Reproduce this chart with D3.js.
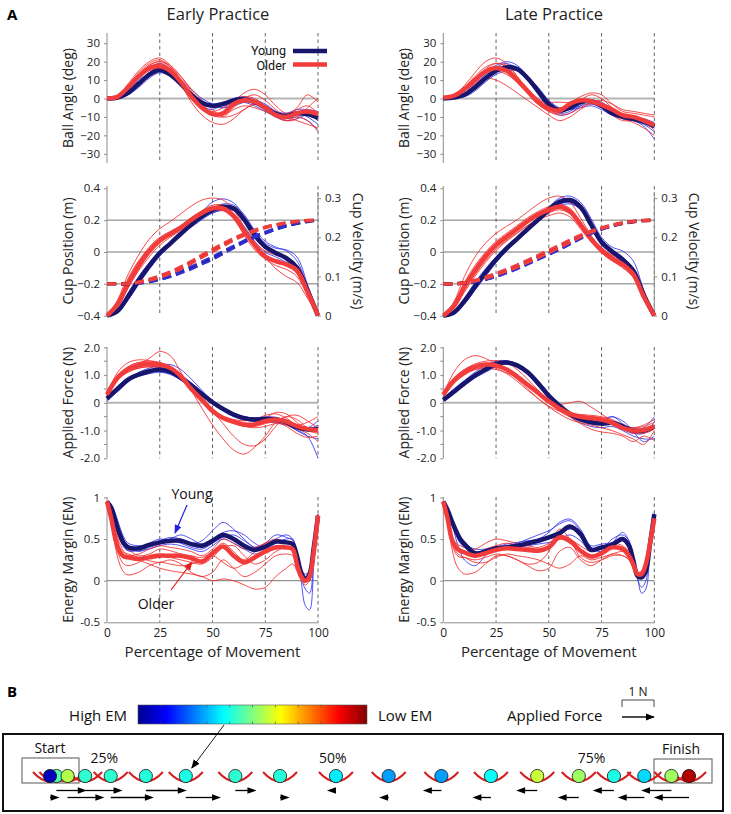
<!DOCTYPE html>
<html><head><meta charset="utf-8">
<script src="https://cdn.jsdelivr.net/npm/d3@7"></script>
<style>body{margin:0;background:#fff;} svg{display:block;font-family:"Open Sans",sans-serif;}</style>
</head><body><svg id="c" width="731" height="814"></svg>
<script>
// ---------------- DATA ----------------
const pct   = [0,5,10,15,20,25,30,35,40,45,50,55,60,65,70,75,80,85,90,95,100];
const pctEM = [0,2,4,6,8,10,15,20,25,30,35,40,45,50,55,60,65,70,75,80,85,88,90,92,94,96,98,100];
const xTicks = [0,25,50,75,100];
const dashMarks = [25,50,75,100];

// Ball angle (deg) – Early
const baEarlyYoungMean = [0,0.5,3,8,13,15.5,13,8,2,-2.5,-4,-3,-1,-0.5,-2,-5,-8.5,-9.5,-8,-8.5,-10.5];
const baEarlyOlderMean = [0,1,6,12,16.5,17.5,15,9,1,-5,-8.5,-8,-3,-1,-1.8,-5,-9,-10,-8,-7,-8.5];
const baEarlyYoung = [
 [0,0.5,3,9,14,17,15,9,3,-1,-4,-5,-2,0,-2,-6,-10,-11,-10,-12,-17],
 [0,0,2,6,11,14,12,7,1,-4,-6,-3,0,1,-1,-4,-7,-8,-6,-6,-7],
 [0,0.5,4,10,16,19,16,9,2,-2,-3,-2,-1,-2,-4,-7,-10,-12,-11,-9,-12],
 [0,0,2,7,12,15,14,10,5,0,-3,-5,-4,-2,-1,-3,-7,-9,-8,-10,-14]];
const baEarlyOlder = [
 [0,1,8,15,20,22,18,10,2,-5,-9,-10,-5,0,2,-1,-6,-9,-5,2,-2],
 [0,1,7,14,19,21,17,8,-2,-9,-13,-14,-11,-6,-3,-5,-10,-12,-10,-12,-18],
 [0,0.5,5,11,15,16,13,7,0,-6,-9,-7,-2,3,5,2,-4,-8,-6,-4,-8],
 [0,1,6,12,17,19,16,10,2,-4,-7,-5,-1,1,0,-4,-8,-10,-12,-14,-16],
 [0,1,7,13,18,20,17,12,5,-1,-6,-10,-9,-6,-3,-4,-8,-12,-11,-5,0],
 [0,0.5,5,12,18,20,18,12,4,-3,-8,-9,-6,-4,-5,-7,-9,-10,-9,-9,-11]];
// Ball angle – Late
const baLateYoungMean = [0,0.5,2,6,11,15,17,16,11,4,-3,-6.5,-5,-2,-1.5,-4,-8,-10,-11,-12.5,-15];
const baLateOlderMean = [0.5,1.5,5,10,14.5,16.5,15,10,4,-2,-5.5,-6.5,-3,-1,-1.5,-3.5,-6,-9,-10,-12,-14.5];
const baLateYoung = [
 [0,0.5,3,8,14,18,20,18,12,4,-4,-8,-7,-3,-1,-3,-8,-11,-12,-15,-22],
 [0,0,2,5,10,14,17,17,12,5,-2,-6,-6,-4,-3,-5,-8,-9,-10,-11,-13],
 [0,0.5,2,7,13,17,19,16,10,2,-5,-9,-8,-4,-1,-2,-6,-10,-12,-14,-18],
 [0,0.5,1,4,9,13,15,15,11,6,-1,-5,-6,-5,-4,-6,-9,-10,-10,-12,-16]];
const baLateOlder = [
 [1,2,7,14,20,22,19,12,4,-3,-7,-8,-5,-1,2,0,-5,-9,-10,-11,-14],
 [0.5,1,4,8,11,10,7,3,-1,-5,-9,-12,-10,-6,-3,-4,-8,-10,-11,-12,-15],
 [0.5,2,6,12,17,19,17,11,4,-1,-2,-2,-2,1,3,2,-3,-7,-8,-9,-10],
 [0.5,1,5,11,16,19,18,12,5,-2,-6,-7,-4,-2,-2,-5,-9,-12,-12,-13,-17],
 [0.5,1.5,5,10,14,15,13,9,3,-3,-7,-9,-8,-5,-2,-1,-3,-6,-7,-8,-9],
 [0.5,2,6,11,15,17,16,11,5,0,-4,-5,-4,-3,-1,-3,-7,-11,-13,-16,-20]];

// Cup velocity (m/s, right axis) – Early
const velEarlyYoungMean = [0,0.012,0.049,0.090,0.127,0.160,0.184,0.209,0.233,0.254,0.270,0.278,0.274,0.245,0.205,0.176,0.160,0.147,0.123,0.065,0];
const velEarlyOlderMean = [0,0.029,0.082,0.127,0.164,0.192,0.209,0.225,0.245,0.262,0.274,0.274,0.254,0.217,0.180,0.151,0.139,0.131,0.115,0.061,0];
const velEarlyYoung = [
 [0,0.010,0.040,0.080,0.118,0.152,0.180,0.208,0.238,0.265,0.290,0.298,0.288,0.255,0.215,0.185,0.172,0.168,0.150,0.080,0],
 [0,0.015,0.055,0.098,0.135,0.165,0.188,0.210,0.230,0.248,0.262,0.270,0.268,0.250,0.215,0.180,0.160,0.140,0.110,0.055,0],
 [0,0.008,0.040,0.085,0.125,0.158,0.183,0.205,0.228,0.250,0.272,0.285,0.282,0.258,0.218,0.190,0.175,0.165,0.140,0.075,0],
 [0,0.014,0.058,0.100,0.134,0.162,0.182,0.205,0.226,0.245,0.262,0.268,0.258,0.228,0.190,0.162,0.150,0.135,0.110,0.055,0]];
const velEarlyOlder = [
 [0,0.040,0.105,0.155,0.195,0.222,0.240,0.260,0.280,0.295,0.300,0.295,0.270,0.225,0.180,0.150,0.140,0.130,0.110,0.055,0],
 [0,0.030,0.090,0.138,0.175,0.200,0.215,0.230,0.250,0.268,0.282,0.282,0.262,0.222,0.182,0.150,0.120,0.100,0.085,0.045,0],
 [0,0.022,0.070,0.115,0.150,0.180,0.200,0.218,0.238,0.255,0.266,0.268,0.252,0.220,0.188,0.165,0.155,0.148,0.130,0.070,0],
 [0,0.035,0.095,0.140,0.172,0.196,0.212,0.228,0.246,0.262,0.272,0.270,0.248,0.205,0.168,0.145,0.138,0.132,0.118,0.062,0],
 [0,0.025,0.075,0.120,0.160,0.190,0.208,0.222,0.240,0.258,0.270,0.272,0.255,0.218,0.178,0.148,0.135,0.128,0.112,0.058,0],
 [0,0.028,0.080,0.125,0.160,0.186,0.204,0.222,0.244,0.262,0.276,0.276,0.256,0.215,0.175,0.145,0.128,0.118,0.100,0.052,0]];
// Cup velocity – Late
const velLateYoungMean = [0,0.008,0.037,0.074,0.110,0.143,0.172,0.196,0.221,0.245,0.270,0.290,0.295,0.278,0.233,0.188,0.164,0.143,0.115,0.053,0];
const velLateOlderMean = [0,0.025,0.074,0.115,0.151,0.180,0.201,0.221,0.241,0.258,0.270,0.278,0.266,0.233,0.196,0.168,0.147,0.131,0.106,0.049,0];
const velLateYoung = [
 [0,0.006,0.030,0.065,0.100,0.135,0.165,0.192,0.220,0.248,0.276,0.300,0.305,0.290,0.248,0.200,0.175,0.165,0.140,0.065,0],
 [0,0.010,0.042,0.080,0.116,0.148,0.176,0.200,0.224,0.246,0.268,0.285,0.288,0.270,0.228,0.184,0.160,0.140,0.110,0.050,0],
 [0,0.007,0.035,0.072,0.108,0.140,0.170,0.196,0.222,0.250,0.278,0.296,0.298,0.276,0.226,0.180,0.158,0.135,0.105,0.048,0],
 [0,0.012,0.045,0.085,0.120,0.150,0.175,0.198,0.220,0.240,0.262,0.280,0.285,0.272,0.235,0.192,0.168,0.150,0.120,0.058,0]];
const velLateOlder = [
 [0,0.035,0.100,0.150,0.185,0.210,0.228,0.245,0.265,0.285,0.300,0.305,0.290,0.250,0.205,0.170,0.150,0.130,0.100,0.045,0],
 [0,0.020,0.065,0.105,0.140,0.170,0.192,0.212,0.230,0.245,0.255,0.262,0.252,0.222,0.188,0.160,0.140,0.125,0.100,0.045,0],
 [0,0.028,0.080,0.122,0.158,0.186,0.206,0.224,0.244,0.262,0.276,0.284,0.274,0.240,0.200,0.170,0.150,0.132,0.108,0.050,0],
 [0,0.022,0.070,0.110,0.146,0.176,0.198,0.218,0.238,0.256,0.268,0.275,0.262,0.228,0.190,0.160,0.140,0.122,0.098,0.045,0],
 [0,0.030,0.085,0.128,0.162,0.190,0.210,0.230,0.250,0.266,0.278,0.282,0.268,0.236,0.200,0.172,0.155,0.140,0.115,0.055,0],
 [0,0.018,0.060,0.100,0.136,0.166,0.190,0.210,0.230,0.248,0.262,0.270,0.260,0.230,0.195,0.166,0.146,0.130,0.105,0.048,0]];

// Cup position (m, left axis, dashed)
const posEarlyYoung = [
 [-0.2,-0.2,-0.2,-0.195,-0.185,-0.17,-0.15,-0.125,-0.1,-0.07,-0.04,-0.005,0.03,0.065,0.095,0.12,0.145,0.165,0.18,0.192,0.2],
 [-0.2,-0.2,-0.2,-0.196,-0.188,-0.175,-0.157,-0.134,-0.108,-0.078,-0.047,-0.012,0.024,0.06,0.09,0.117,0.142,0.162,0.178,0.19,0.2],
 [-0.2,-0.2,-0.199,-0.193,-0.182,-0.165,-0.144,-0.118,-0.09,-0.06,-0.028,0.006,0.04,0.073,0.102,0.127,0.15,0.168,0.182,0.193,0.2]];
const posEarlyOlder = [
 [-0.2,-0.2,-0.2,-0.19,-0.175,-0.155,-0.13,-0.1,-0.065,-0.025,0.01,0.045,0.08,0.11,0.135,0.155,0.17,0.183,0.192,0.198,0.2],
 [-0.2,-0.2,-0.198,-0.186,-0.168,-0.146,-0.12,-0.09,-0.055,-0.016,0.02,0.055,0.088,0.116,0.14,0.158,0.172,0.184,0.193,0.198,0.2],
 [-0.2,-0.2,-0.2,-0.192,-0.18,-0.162,-0.138,-0.108,-0.074,-0.036,0.0,0.035,0.07,0.102,0.128,0.15,0.167,0.181,0.191,0.197,0.2]];
const posLateYoung = [
 [-0.2,-0.2,-0.195,-0.185,-0.17,-0.15,-0.125,-0.1,-0.07,-0.04,-0.01,0.02,0.055,0.09,0.12,0.145,0.165,0.18,0.19,0.197,0.2],
 [-0.2,-0.2,-0.197,-0.189,-0.175,-0.157,-0.133,-0.108,-0.079,-0.049,-0.018,0.013,0.047,0.082,0.113,0.14,0.161,0.177,0.189,0.196,0.2],
 [-0.2,-0.2,-0.194,-0.182,-0.165,-0.144,-0.118,-0.092,-0.062,-0.032,-0.002,0.028,0.062,0.096,0.125,0.149,0.168,0.182,0.191,0.198,0.2]];
const posLateOlder = [
 [-0.2,-0.2,-0.193,-0.18,-0.162,-0.14,-0.115,-0.088,-0.058,-0.028,0.003,0.035,0.068,0.1,0.128,0.15,0.168,0.182,0.192,0.198,0.2],
 [-0.2,-0.199,-0.19,-0.175,-0.155,-0.132,-0.106,-0.078,-0.048,-0.017,0.014,0.046,0.078,0.108,0.134,0.154,0.171,0.184,0.193,0.198,0.2],
 [-0.2,-0.2,-0.195,-0.184,-0.168,-0.147,-0.123,-0.097,-0.068,-0.038,-0.007,0.025,0.058,0.091,0.121,0.145,0.165,0.18,0.19,0.197,0.2]];

// Applied force (N) – Early
const fEarlyYoungMean = [0.15,0.5,0.84,1.02,1.14,1.2,1.12,0.9,0.62,0.32,0.02,-0.22,-0.42,-0.55,-0.6,-0.58,-0.6,-0.7,-0.88,-0.96,-0.95];
const fEarlyOlderMean = [0.3,0.9,1.2,1.35,1.4,1.38,1.26,0.96,0.5,0.1,-0.3,-0.55,-0.68,-0.78,-0.78,-0.66,-0.6,-0.68,-0.84,-0.94,-1.0];
const fEarlyYoung = [
 [0.1,0.4,0.75,1.0,1.15,1.25,1.2,1.0,0.72,0.4,0.08,-0.2,-0.4,-0.5,-0.55,-0.55,-0.62,-0.78,-0.98,-1.2,-2.0],
 [0.2,0.6,0.9,1.05,1.12,1.12,1.05,0.85,0.55,0.25,-0.05,-0.3,-0.5,-0.62,-0.65,-0.6,-0.55,-0.62,-0.8,-0.9,-0.65],
 [0.05,0.45,0.85,1.1,1.25,1.35,1.38,1.2,0.85,0.45,0.05,-0.25,-0.45,-0.6,-0.68,-0.7,-0.72,-0.8,-1.0,-1.2,-1.3],
 [0.25,0.55,0.8,0.95,1.05,1.1,1.02,0.82,0.55,0.28,0.0,-0.22,-0.38,-0.5,-0.55,-0.5,-0.52,-0.65,-0.85,-0.95,-0.8]];
const fEarlyOlder = [
 [0.3,1.1,1.45,1.55,1.52,1.45,1.3,1.0,0.55,0.1,-0.35,-0.6,-0.72,-0.8,-0.78,-0.55,-0.35,-0.4,-0.7,-1.0,-1.1],
 [0.2,0.8,1.2,1.4,1.6,1.85,1.7,1.1,0.45,-0.2,-0.8,-1.3,-1.7,-1.85,-1.6,-1.2,-0.7,-0.5,-0.6,-0.9,-1.0],
 [0.4,1.0,1.3,1.45,1.5,1.45,1.3,1.0,0.6,0.2,-0.2,-0.5,-0.7,-0.85,-0.9,-0.85,-0.75,-0.8,-0.95,-1.1,-1.4],
 [0.3,0.9,1.15,1.25,1.3,1.25,1.15,0.9,0.5,0.12,-0.25,-0.48,-0.6,-0.65,-0.6,-0.45,-0.4,-0.55,-0.8,-0.7,-0.5],
 [0.35,0.85,1.1,1.25,1.3,1.3,1.2,0.95,0.58,0.15,-0.3,-0.75,-1.2,-1.5,-1.55,-1.3,-0.85,-0.5,-0.45,-0.65,-0.9],
 [0.25,0.95,1.3,1.45,1.45,1.35,1.2,0.9,0.45,0.05,-0.35,-0.6,-0.75,-0.85,-0.85,-0.75,-0.7,-0.85,-1.1,-1.25,-1.2]];
// Applied force – Late
const fLateYoungMean = [0.1,0.4,0.7,0.98,1.2,1.4,1.45,1.35,1.1,0.7,0.25,-0.1,-0.4,-0.6,-0.7,-0.75,-0.72,-0.85,-1.0,-1.0,-0.85];
const fLateOlderMean = [0.3,0.8,1.1,1.3,1.38,1.35,1.2,0.95,0.65,0.35,0.05,-0.2,-0.4,-0.5,-0.55,-0.6,-0.72,-0.9,-1.0,-0.98,-0.85];
const fLateYoung = [
 [0.1,0.45,0.8,1.1,1.35,1.5,1.52,1.4,1.1,0.65,0.18,-0.2,-0.5,-0.72,-0.85,-0.9,-0.85,-1.0,-1.2,-1.3,-1.3],
 [0.15,0.4,0.65,0.9,1.1,1.3,1.4,1.35,1.15,0.8,0.35,-0.05,-0.35,-0.55,-0.62,-0.6,-0.5,-0.65,-0.95,-0.9,-0.5],
 [0.05,0.35,0.68,1.0,1.25,1.42,1.5,1.4,1.12,0.72,0.25,-0.12,-0.45,-0.65,-0.75,-0.8,-0.78,-0.95,-1.1,-1.1,-0.7],
 [0.15,0.5,0.8,1.05,1.25,1.38,1.4,1.28,1.02,0.62,0.2,-0.15,-0.4,-0.55,-0.65,-0.7,-0.5,-0.75,-1.05,-1.4,-1.2]];
const fLateOlder = [
 [0.3,1.1,1.55,1.7,1.6,1.4,1.15,0.85,0.5,0.15,-0.15,-0.4,-0.6,-0.72,-0.8,-0.9,-1.0,-1.15,-1.3,-1.5,-1.0],
 [0.35,0.9,1.2,1.4,1.5,1.52,1.45,1.2,0.85,0.45,0.05,-0.3,-0.5,-0.6,-0.6,-0.6,-0.75,-0.95,-1.1,-1.05,-0.8],
 [0.2,0.7,1.0,1.2,1.3,1.3,1.15,0.9,0.6,0.3,0.05,-0.05,0.0,0.05,-0.15,-0.4,-0.65,-0.85,-0.9,-0.8,-0.6],
 [0.3,0.75,1.05,1.25,1.35,1.3,1.15,0.95,0.7,0.4,0.1,-0.2,-0.5,-0.75,-0.95,-1.05,-1.1,-1.2,-1.4,-1.2,-1.35],
 [0.25,0.85,1.2,1.35,1.35,1.25,1.05,0.78,0.45,0.15,-0.12,-0.3,-0.4,-0.42,-0.45,-0.5,-0.6,-0.8,-0.9,-0.85,-0.7],
 [0.3,0.8,1.05,1.2,1.25,1.2,1.08,0.9,0.68,0.4,0.1,-0.2,-0.38,-0.45,-0.5,-0.55,-0.7,-0.85,-1.0,-1.1,-0.95]];

// Energy margin – Early (on pctEM grid)
const emEarlyYoungMean = [0.95,0.88,0.72,0.56,0.45,0.4,0.39,0.43,0.46,0.48,0.48,0.44,0.42,0.48,0.55,0.5,0.42,0.37,0.41,0.47,0.46,0.44,0.3,0.1,0.02,0.08,0.4,0.78];
const emEarlyOlderMean = [0.95,0.75,0.5,0.35,0.29,0.28,0.26,0.28,0.3,0.3,0.3,0.27,0.23,0.33,0.41,0.3,0.22,0.28,0.35,0.4,0.4,0.38,0.2,0.05,0.0,0.05,0.35,0.78];
const emEarlyYoung = [
 [0.95,0.9,0.8,0.65,0.52,0.45,0.42,0.44,0.48,0.52,0.5,0.45,0.48,0.6,0.7,0.62,0.5,0.4,0.45,0.55,0.52,0.48,0.3,0.0,-0.3,-0.35,0.2,0.78],
 [0.95,0.85,0.68,0.5,0.4,0.36,0.38,0.45,0.5,0.48,0.45,0.4,0.38,0.45,0.52,0.55,0.48,0.4,0.38,0.45,0.5,0.5,0.35,0.15,0.05,0.0,0.3,0.75],
 [0.95,0.88,0.75,0.6,0.48,0.42,0.35,0.4,0.44,0.5,0.55,0.5,0.44,0.5,0.58,0.6,0.55,0.45,0.4,0.5,0.55,0.5,0.3,0.05,-0.1,-0.15,0.25,0.78],
 [0.95,0.86,0.7,0.52,0.42,0.36,0.36,0.38,0.42,0.44,0.42,0.38,0.35,0.42,0.5,0.45,0.38,0.32,0.36,0.42,0.4,0.4,0.28,0.12,0.08,0.12,0.4,0.8]];
const emEarlyOlder = [
 [0.95,0.7,0.4,0.2,0.1,0.07,0.1,0.18,0.22,0.2,0.18,0.2,0.25,0.3,0.22,0.15,0.2,0.3,0.35,0.38,0.4,0.38,0.2,0.05,0.02,0.08,0.35,0.78],
 [0.95,0.8,0.6,0.45,0.35,0.3,0.25,0.2,0.15,0.12,0.1,0.08,0.05,0.0,0.02,0.0,-0.05,-0.1,-0.08,0.05,0.15,0.2,0.12,0.05,0.0,0.02,0.3,0.75],
 [0.95,0.82,0.65,0.5,0.42,0.38,0.3,0.32,0.38,0.36,0.32,0.3,0.28,0.35,0.45,0.35,0.25,0.35,0.45,0.5,0.45,0.42,0.25,0.08,0.03,0.1,0.4,0.8],
 [0.95,0.72,0.45,0.28,0.2,0.18,0.22,0.3,0.32,0.28,0.25,0.22,0.2,0.28,0.4,0.42,0.3,0.2,0.25,0.35,0.4,0.38,0.22,0.06,0.0,0.05,0.35,0.78],
 [0.95,0.78,0.55,0.4,0.34,0.32,0.28,0.24,0.22,0.25,0.2,0.1,0.05,0.1,0.25,0.15,0.05,0.1,0.2,0.3,0.32,0.3,0.15,0.03,-0.05,0.0,0.3,0.75],
 [0.95,0.76,0.52,0.36,0.3,0.3,0.32,0.38,0.42,0.4,0.38,0.35,0.3,0.38,0.5,0.45,0.38,0.4,0.45,0.48,0.45,0.42,0.25,0.08,0.02,0.08,0.38,0.8]];
// Energy margin – Late
const emLateYoungMean = [0.95,0.85,0.72,0.6,0.5,0.44,0.33,0.35,0.39,0.4,0.42,0.45,0.48,0.52,0.57,0.65,0.56,0.37,0.4,0.43,0.5,0.42,0.25,0.06,0.04,0.12,0.45,0.8];
const emLateOlderMean = [0.95,0.75,0.5,0.4,0.36,0.34,0.3,0.33,0.37,0.39,0.38,0.37,0.36,0.4,0.52,0.48,0.36,0.29,0.33,0.4,0.38,0.3,0.2,0.08,0.08,0.2,0.45,0.75];
const emLateYoung = [
 [0.95,0.85,0.7,0.5,0.35,0.25,0.18,0.3,0.4,0.42,0.45,0.5,0.55,0.6,0.68,0.72,0.6,0.4,0.38,0.5,0.55,0.48,0.3,0.05,-0.15,-0.1,0.4,0.8],
 [0.95,0.88,0.75,0.62,0.52,0.45,0.38,0.38,0.4,0.42,0.43,0.44,0.46,0.5,0.55,0.62,0.58,0.42,0.44,0.46,0.52,0.45,0.28,0.1,0.05,0.1,0.45,0.82],
 [0.95,0.86,0.72,0.58,0.48,0.42,0.35,0.36,0.4,0.44,0.46,0.48,0.5,0.58,0.7,0.74,0.62,0.4,0.35,0.45,0.58,0.48,0.26,0.02,-0.08,0.0,0.42,0.78],
 [0.95,0.84,0.68,0.55,0.45,0.4,0.32,0.34,0.36,0.38,0.4,0.42,0.44,0.46,0.5,0.55,0.48,0.35,0.4,0.42,0.48,0.4,0.22,0.08,0.06,0.15,0.48,0.8]];
const emLateOlder = [
 [0.95,0.7,0.4,0.2,0.12,0.08,0.1,0.2,0.3,0.3,0.25,0.18,0.12,0.15,0.35,0.4,0.25,0.18,0.25,0.32,0.3,0.25,0.15,0.05,0.08,0.2,0.45,0.75],
 [0.95,0.78,0.55,0.45,0.42,0.4,0.38,0.45,0.5,0.48,0.45,0.42,0.4,0.45,0.55,0.5,0.42,0.35,0.4,0.45,0.42,0.35,0.22,0.1,0.1,0.22,0.48,0.75],
 [0.95,0.72,0.45,0.32,0.28,0.28,0.25,0.28,0.32,0.3,0.25,0.2,0.22,0.35,0.62,0.5,0.28,0.22,0.25,0.3,0.3,0.25,0.15,0.05,0.05,0.15,0.4,0.72],
 [0.95,0.76,0.52,0.42,0.38,0.35,0.32,0.38,0.42,0.45,0.42,0.4,0.38,0.42,0.5,0.45,0.35,0.3,0.35,0.4,0.4,0.32,0.2,0.1,0.12,0.25,0.5,0.78],
 [0.95,0.74,0.48,0.35,0.3,0.28,0.22,0.22,0.28,0.32,0.3,0.28,0.25,0.2,0.15,0.2,0.3,0.25,0.28,0.32,0.35,0.3,0.18,0.06,0.06,0.18,0.42,0.72]];

// Panel B: ball/cup snapshots
const ballPos   = [-0.200,-0.196,-0.189,-0.178,-0.162,-0.140,-0.115,-0.084,-0.056,-0.021,0.012,0.045,0.076,0.105,0.131,0.153,0.172,0.189,0.200];
const ballEM    = [0.95,0.55,0.45,0.58,0.58,0.59,0.60,0.58,0.59,0.64,0.72,0.72,0.62,0.43,0.47,0.60,0.66,0.47,0.05];
const ballForce = [0.3,0.95,1.15,1.17,1.35,1.28,1.1,0.66,0.3,-0.22,-0.3,-0.58,-0.58,-0.66,-0.66,-0.66,-0.83,-0.95,-1.1];
const jetStops  = [0,0.125,0.375,0.625,0.875,1];
const jetColors = ["#00008f","#0000ff","#00ffff","#ffff00","#ff0000","#800000"];
const cbarTicks = [0.1,0.2,0.3,0.4,0.5,0.6,0.7,0.8,0.9];
const pctLabels = [{t:"25%",p:-0.166},{t:"50%",p:-0.023},{t:"75%",p:0.139}];

// ---------------- DRAW ----------------
const svg = d3.select('#c');
const COL = {navy:'#17166c', red:'#f23c3c', tBlue:'#3434f0', tRed:'#f42a2a', axis:'#8c8c8c', txt:'#222'};
const cols = [
 {key:'Early', x: d3.scaleLinear([0,100],[107,318])},
 {key:'Late',  x: d3.scaleLinear([0,100],[443.3,654.3])}];

const minusFmt = d => d < 0 ? '\u2212' + Math.abs(d) : String(d);
const rows = [
 {name:'ba', y:d3.scaleLinear([-35,35],[163,34]), ticks:[-30,-20,-10,0,10,20,30], fmt:minusFmt,
  label:'Ball Angle (deg)', top:33, bottom:163, zero:[{v:0,c:'#b4b4b4',w:2}], grid:pct,
  data:{Early:[baEarlyYoung,baEarlyOlder,baEarlyYoungMean,baEarlyOlderMean], Late:[baLateYoung,baLateOlder,baLateYoungMean,baLateOlderMean]}},
 {name:'cup', y:d3.scaleLinear([0,0.325],[315.7,188.3]), yl:d3.scaleLinear([-0.4,0.4],[315.7,188.3]),
  ticks:[-0.4,-0.2,0,0.2,0.4], fmt:d=> d<0 ? '\u2212'+Math.abs(d).toFixed(1) : (d===0?'0':d.toFixed(1)),
  label:'Cup Position (m)', top:186, bottom:316, zero:[{v:-0.2,c:'#777',w:1},{v:0,c:'#777',w:1},{v:0.2,c:'#777',w:1}], grid:pct,
  data:{Early:[velEarlyYoung,velEarlyOlder,velEarlyYoungMean,velEarlyOlderMean], Late:[velLateYoung,velLateOlder,velLateYoungMean,velLateOlderMean]},
  pos:{Early:[posEarlyYoung,posEarlyOlder], Late:[posLateYoung,posLateOlder]}},
 {name:'force', y:d3.scaleLinear([-2,2.25],[458.3,340.4]), ticks:[-2,-1,0,1,2], minor:[-1.5,-0.5,0.5,1.5],
  fmt:d=> d===0?'0':(d<0?'-':'')+Math.abs(d).toFixed(1),
  label:'Applied Force (N)', top:347, bottom:458.3, zero:[{v:0,c:'#b4b4b4',w:2}], grid:pct,
  data:{Early:[fEarlyYoung,fEarlyOlder,fEarlyYoungMean,fEarlyOlderMean], Late:[fLateYoung,fLateOlder,fLateYoungMean,fLateOlderMean]}},
 {name:'em', y:d3.scaleLinear([-0.5,1.02],[622.3,495.8]), ticks:[-0.5,0,0.5,1], fmt:d=> d===0?'0':String(d),
  label:'Energy Margin (EM)', top:497, bottom:622.3, zero:[{v:0,c:'#777',w:1}], grid:pctEM,
  data:{Early:[emEarlyYoung,emEarlyOlder,emEarlyYoungMean,emEarlyOlderMean], Late:[emLateYoung,emLateOlder,emLateYoungMean,emLateOlderMean]}}
];

const defs = svg.append('defs');
function marker(id,color,size){
  defs.append('marker').attr('id',id).attr('viewBox','0 0 10 10').attr('refX',9).attr('refY',5)
    .attr('markerWidth',size).attr('markerHeight',size).attr('orient','auto').attr('markerUnits','userSpaceOnUse')
    .append('path').attr('d','M0,1 L10,5 L0,9 Z').attr('fill',color);
}
marker('mBlue','#2222dd',9); marker('mRed','#e02020',9); marker('mBlack','#000',9);

// Titles
svg.append('text').attr('x',7).attr('y',20).attr('font-weight','bold').attr('font-size',15).text('A');
svg.append('text').attr('x',218).attr('y',20).attr('text-anchor','middle').attr('font-size',16.5).attr('fill',COL.txt).text('Early Practice');
svg.append('text').attr('x',554).attr('y',20).attr('text-anchor','middle').attr('font-size',16.5).attr('fill',COL.txt).text('Late Practice');

cols.forEach(col => {
  const x = col.x, x0 = x.range()[0], x1 = x.range()[1];
  rows.forEach(r => {
    const g = svg.append('g');
    const yAxisScale = r.yl || r.y;
    r.zero.forEach(z => g.append('line').attr('x1',x0).attr('x2',x1).attr('y1',yAxisScale(z.v)).attr('y2',yAxisScale(z.v))
      .attr('stroke',z.c).attr('stroke-width',z.w));
    dashMarks.forEach(m => g.append('line').attr('x1',x(m)).attr('x2',x(m)).attr('y1',r.top).attr('y2',r.bottom)
      .attr('stroke','#555').attr('stroke-width',0.9).attr('stroke-dasharray','3.5,3'));
    const ax = g.append('g').attr('transform',`translate(${x0},0)`)
      .call(d3.axisLeft(yAxisScale).tickValues(r.ticks).tickFormat(r.fmt).tickSize(3).tickSizeOuter(0).tickPadding(4));
    ax.select('.domain').attr('stroke',COL.axis).attr('d',`M0,${r.bottom}V${r.top}`);
    ax.selectAll('.tick line').attr('stroke',COL.axis);
    ax.selectAll('text').attr('font-size',11.5).attr('fill',COL.txt).attr('font-family','"Open Sans",sans-serif');
    if (r.minor) r.minor.forEach(v => g.append('line').attr('x1',x0-3).attr('x2',x0).attr('y1',r.y(v)).attr('y2',r.y(v)).attr('stroke',COL.axis));
    const ly = (r.top + r.bottom)/2;
    g.append('text').attr('transform',`translate(${x0-40},${ly}) rotate(-90)`).attr('text-anchor','middle')
      .attr('dominant-baseline','central').attr('font-size',14).attr('fill',COL.txt).text(r.label);
    if (r.name === 'cup') {
      const ar = g.append('g').attr('transform',`translate(${x1},0)`)
        .call(d3.axisRight(r.y).tickValues([0,0.1,0.2,0.3]).tickFormat(d=> d===0?'0':d.toFixed(1)).tickSize(3).tickSizeOuter(0).tickPadding(4));
      ar.select('.domain').attr('stroke',COL.axis).attr('d',`M0,${r.y(0)}V${r.y(0.315)}`);
      ar.selectAll('.tick line').attr('stroke',COL.axis);
      ar.selectAll('text').attr('font-size',11.5).attr('fill',COL.txt).attr('font-family','"Open Sans",sans-serif');
      g.append('text').attr('transform',`translate(${x1+40},${ly}) rotate(90)`).attr('text-anchor','middle')
        .attr('dominant-baseline','central').attr('font-size',14).attr('fill',COL.txt).text('Cup Velocity (m/s)');
    }
    const [yThin, oThin, yMean, oMean] = r.data[col.key];
    const line = d3.line().x((d,i)=>x(r.grid[i])).y(d=>r.y(d)).curve(d3.curveCatmullRom.alpha(0.5));
    yThin.forEach(s => g.append('path').attr('d',line(s)).attr('fill','none').attr('stroke',COL.tBlue).attr('stroke-width',0.85));
    oThin.forEach(s => g.append('path').attr('d',line(s)).attr('fill','none').attr('stroke',COL.tRed).attr('stroke-width',0.85));
    g.append('path').attr('d',line(yMean)).attr('fill','none').attr('stroke',COL.navy).attr('stroke-width',4.5).attr('stroke-linejoin','round');
    g.append('path').attr('d',line(oMean)).attr('fill','none').attr('stroke',COL.red).attr('stroke-width',4.5).attr('stroke-linejoin','round');
    if (r.pos) {
      const pl = d3.line().x((d,i)=>x(pct[i])).y(d=>r.yl(d)).curve(d3.curveCatmullRom.alpha(0.5));
      const [py, po] = r.pos[col.key];
      py.forEach((s,i) => g.append('path').attr('d',pl(s)).attr('fill','none').attr('stroke', i===0?COL.navy:'#3030d0')
        .attr('stroke-width', i===0?3.5:2.2).attr('stroke-dasharray','9,5'));
      po.forEach((s,i) => g.append('path').attr('d',pl(s)).attr('fill','none').attr('stroke', i===0?'#e02828':'#f04040')
        .attr('stroke-width', i===0?3.5:2.2).attr('stroke-dasharray','9,5'));
    }
    if (r.name === 'em') {
      const xa = g.append('g').attr('transform',`translate(0,${r.y(-0.5)})`)
        .call(d3.axisBottom(x).tickValues(xTicks).tickSize(0).tickPadding(6).tickSizeOuter(0));
      xa.select('.domain').attr('stroke',COL.axis);
      xa.selectAll('text').attr('font-size',12).attr('fill',COL.txt).attr('font-family','"Open Sans",sans-serif');
      g.append('text').attr('x',(x0+x1)/2).attr('y',657).attr('text-anchor','middle').attr('font-size',15).attr('fill',COL.txt).text('Percentage of Movement');
    }
    if (col.key==='Early' && r.name==='ba') {
      g.append('text').attr('x',286).attr('y',50.3).attr('text-anchor','end').attr('dominant-baseline','central').attr('font-size',12.5).attr('font-family','Roboto, sans-serif').attr('fill','#111').text('Young');
      g.append('text').attr('x',286).attr('y',65).attr('text-anchor','end').attr('dominant-baseline','central').attr('font-size',12.5).attr('font-family','Roboto, sans-serif').attr('fill','#111').text('Older');
      g.append('line').attr('x1',293).attr('x2',327).attr('y1',51).attr('y2',51).attr('stroke',COL.navy).attr('stroke-width',4.5);
      g.append('line').attr('x1',293).attr('x2',327).attr('y1',64.5).attr('y2',64.5).attr('stroke',COL.red).attr('stroke-width',4.5);
    }
    if (col.key==='Early' && r.name==='em') {
      g.append('text').attr('x',192).attr('y',493).attr('text-anchor','middle').attr('dominant-baseline','central').attr('font-size',14).attr('fill','#111').text('Young');
      g.append('line').attr('x1',187).attr('y1',505).attr('x2',175).attr('y2',533).attr('stroke','#2222dd').attr('stroke-width',1.2).attr('marker-end','url(#mBlue)');
      g.append('text').attr('x',156).attr('y',603).attr('text-anchor','middle').attr('dominant-baseline','central').attr('font-size',14).attr('fill','#111').text('Older');
      g.append('line').attr('x1',171).attr('y1',590).attr('x2',192).attr('y2',562).attr('stroke','#e02020').attr('stroke-width',1.2).attr('marker-end','url(#mRed)');
    }
  });
});

// ---------------- PANEL B ----------------
const gb = svg.append('g');
gb.append('text').attr('x',7).attr('y',697).attr('font-weight','bold').attr('font-size',15).text('B');
const jet = d3.scaleLinear().domain(jetStops).range(jetColors);
const emToT = d3.scaleLinear([1,0],[0,1]);
const cb = d3.scaleLinear([0,1],[138,367]);
const grad = defs.append('linearGradient').attr('id','jet').attr('x1','0%').attr('x2','100%');
jetStops.forEach((s,i)=>grad.append('stop').attr('offset',(s*100)+'%').attr('stop-color',jetColors[i]));
gb.append('rect').attr('x',cb(0)).attr('y',705).attr('width',cb(1)-cb(0)).attr('height',19).attr('fill','url(#jet)').attr('stroke','#555').attr('stroke-width',0.6);
cbarTicks.forEach(t=>{
  gb.append('line').attr('x1',cb(t)).attr('x2',cb(t)).attr('y1',705).attr('y2',707.5).attr('stroke','#444').attr('stroke-width',0.6);
  gb.append('line').attr('x1',cb(t)).attr('x2',cb(t)).attr('y1',721.5).attr('y2',724).attr('stroke','#444').attr('stroke-width',0.6);
});
gb.append('text').attr('x',127).attr('y',715).attr('text-anchor','end').attr('dominant-baseline','central').attr('font-size',15).attr('fill','#111').text('High EM');
gb.append('text').attr('x',378).attr('y',715).attr('dominant-baseline','central').attr('font-size',15).attr('fill','#111').text('Low EM');
gb.append('text').attr('x',507).attr('y',715).attr('dominant-baseline','central').attr('font-size',15).attr('fill','#111').text('Applied Force');
const fScale = d3.scaleLinear([0,1],[0,32]);
const lx0 = 622;
gb.append('line').attr('x1',lx0).attr('x2',lx0+fScale(1)).attr('y1',717).attr('y2',717).attr('stroke','#000').attr('stroke-width',1.4).attr('marker-end','url(#mBlack)');
gb.append('path').attr('d',`M${lx0},707V700H${lx0+fScale(1)}V707`).attr('fill','none').attr('stroke','#333').attr('stroke-width',0.9);
gb.append('text').attr('x',lx0+fScale(0.5)).attr('y',691).attr('text-anchor','middle').attr('dominant-baseline','central').attr('font-size',12).attr('fill','#111').text('1 N');

gb.append('rect').attr('x',3).attr('y',734).attr('width',720).attr('height',77).attr('fill','none').attr('stroke','#111').attr('stroke-width',2);
const tx = d3.scaleLinear([-0.2,0.2],[50,689]);
gb.append('rect').attr('x',22).attr('y',758).attr('width',57).attr('height',25).attr('fill','none').attr('stroke','#666').attr('stroke-width',1.1);
gb.append('rect').attr('x',654).attr('y',759).attr('width',58).attr('height',24).attr('fill','none').attr('stroke','#666').attr('stroke-width',1.1);
gb.append('text').attr('x',50).attr('y',747).attr('text-anchor','middle').attr('dominant-baseline','central').attr('font-size',14).attr('fill','#111').text('Start');
gb.append('text').attr('x',681).attr('y',748).attr('text-anchor','middle').attr('dominant-baseline','central').attr('font-size',14).attr('fill','#111').text('Finish');
pctLabels.forEach(p => gb.append('text').attr('x',tx(p.p)).attr('y',757).attr('text-anchor','middle').attr('dominant-baseline','central').attr('font-size',14).attr('fill','#111').text(p.t));
ballPos.forEach(p => {
  const cx = tx(p);
  gb.append('path').attr('d',`M${cx-17},772 Q${cx},791 ${cx+17},772`).attr('fill','none').attr('stroke','#d42020').attr('stroke-width',2);
});
const balls = gb.selectAll('circle.ball').data(ballPos).join('circle').attr('class','ball')
  .attr('cx',d=>tx(d)).attr('cy',776).attr('r',6.6)
  .attr('fill',(d,i)=>jet(emToT(ballEM[i]))).attr('stroke','#111').attr('stroke-width',0.8);
balls.filter((d,i)=>i===0).raise();
ballPos.forEach((p,i) => {
  const x0 = tx(p), L = fScale(ballForce[i]), s = Math.sign(L), yy = (i%2===0) ? 797.5 : 790.5;
  const head = 9;
  const tip = x0 + (Math.abs(L) < head ? s*head : L);
  if (Math.abs(L) > head) gb.append('line').attr('x1',x0).attr('x2',tip - s*head + s).attr('y1',yy).attr('y2',yy).attr('stroke','#000').attr('stroke-width',1.3);
  gb.append('path').attr('d',`M${tip},${yy} L${tip-s*head},${yy-3.3} L${tip-s*head},${yy+3.3} Z`).attr('fill','#000');
});
gb.append('line').attr('x1',224).attr('y1',725).attr('x2',tx(ballPos[6])+6).attr('y2',768).attr('stroke','#000').attr('stroke-width',0.9).attr('marker-end','url(#mBlack)');
</script></body></html>
